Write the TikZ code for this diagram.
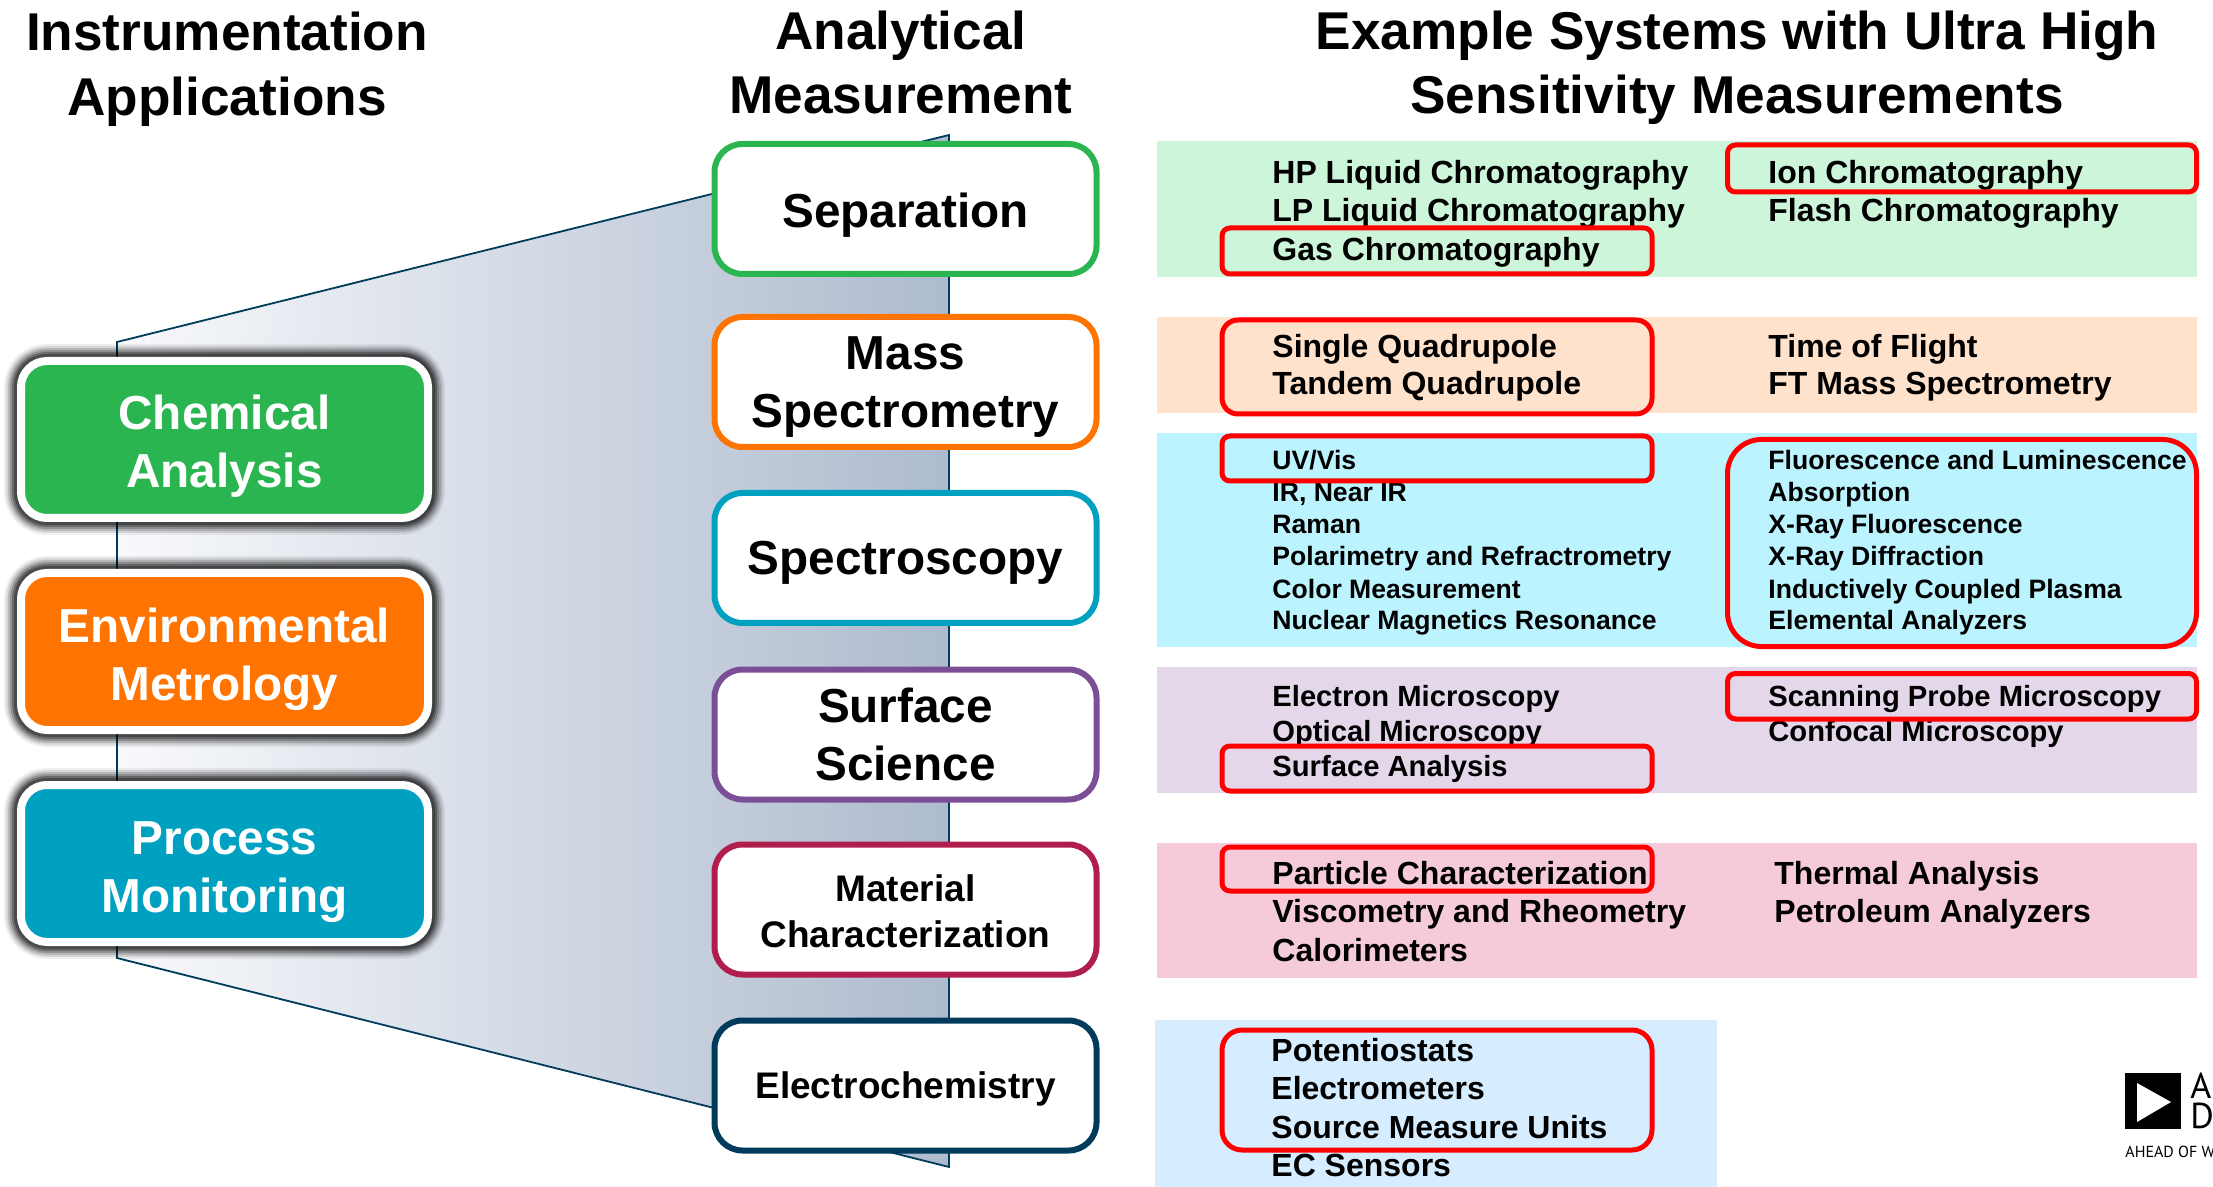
\documentclass[tikz,border=0pt]{standalone}
\usepackage{fontspec}
\setmainfont{Liberation Sans}
\newfontfamily\logofont{PT Sans}
\usetikzlibrary{calc}
\definecolor{cGreen}{HTML}{2BB550}
\definecolor{cOrange}{HTML}{FF7300}
\definecolor{cTeal}{HTML}{00A0C0}
\definecolor{cPurple}{HTML}{7B4F96}
\definecolor{cCrimson}{HTML}{B01E4E}
\definecolor{cNavy}{HTML}{003B5C}
\definecolor{pGreen}{HTML}{CCF5DA}
\definecolor{pPeach}{HTML}{FFE2CC}
\definecolor{pCyan}{HTML}{BBF4FF}
\definecolor{pLilac}{HTML}{E4D7EA}
\definecolor{pPink}{HTML}{F5CADA}
\definecolor{pBlue}{HTML}{D5EDFF}
\definecolor{fLeft}{HTML}{F8F9FB}
\definecolor{fRight}{HTML}{AEBBCE}
\newcommand{\nd}[2][0pt]{\raisebox{-#1}[\height][0pt]{#2}}
\tikzset{
  x=0.5pt,y=-0.5pt,
  title/.style={font=\bfseries\fontsize{26.6}{32}\selectfont,align=center,anchor=base},
  leftbox/.style={draw=white,line width=4pt,fill=#1,rounded corners=13pt,minimum width=203.5pt,minimum height=78.5pt,inner sep=0pt,
    text=white,align=center,font=\bfseries\fontsize{23.85}{29}\selectfont,
    preaction={draw=black,opacity=.06,line width=17pt},
    preaction={draw=black,opacity=.10,line width=15pt},
    preaction={draw=black,opacity=.15,line width=13pt},
    preaction={draw=black,opacity=.2,line width=11pt},
    preaction={draw=black,opacity=.28,line width=9pt},
    preaction={draw=black,opacity=.3,line width=7pt}},
  midbox/.style={draw=#1,line width=3pt,fill=white,rounded corners=14pt,minimum width=191pt,minimum height=65pt,inner sep=0pt,
    align=center,font=\bfseries\fontsize{23.85}{29}\selectfont},
  midsmall/.style={font=\bfseries\fontsize{18.5}{23}\selectfont},
  panel/.style={fill=#1,draw=none},
  item/.style={anchor=base west,inner sep=0pt,font=\bfseries\fontsize{16}{19}\selectfont},
  itemspec/.style={anchor=base west,inner sep=0pt,font=\bfseries\fontsize{13.3}{16}\selectfont},
  itemsurf/.style={anchor=base west,inner sep=0pt,font=\bfseries\fontsize{14.6}{17}\selectfont},
  redbox/.style={draw=red,line width=2.5pt,rounded corners=#1},
  redbox/.default=4pt,
  logotext/.style={anchor=base west,inner sep=0pt,font=\logofont\fontsize{#1}{20}\selectfont},
}
\begin{document}
\begin{tikzpicture}
\useasboundingbox (0,0) rectangle (2213,1187);
% funnel
\path[draw=cNavy,line width=0.9pt,left color=fLeft,right color=fRight]
  (117,342) -- (949,135) -- (949,1167) -- (117,958) -- cycle;
% titles
\node[title] (t1) at (227,51) {Instrumentation};
\node[title] (t1b) at (227,116) {Applications};
\node[title] (t2) at (901,50) {Analytical};
\node[title] (t2b) at (901,114) {Measurement};
\node[title] (t3) at (1737,50) {Example Systems with Ultra High};
\node[title] (t3b) at (1737,114) {Sensitivity Measurements};
% left boxes
\node[leftbox=cGreen] (chem) at (224.5,439.5) {\nd[.7pt]{Chemical}\\\nd[.7pt]{Analysis}};
\node[leftbox=cOrange] (env) at (224.5,651.5) {\nd[1.5pt]{Environmental}\\\nd[1.5pt]{Metrology}};
\node[leftbox=cTeal] (proc) at (224.5,863.5) {\nd[1.75pt]{Process}\\\nd[1.75pt]{Monitoring}};
% middle boxes
\node[midbox=cGreen] (sep) at (905.5,209) {\nd[.5pt]{Separation}};
\node[midbox=cOrange] (mass) at (905.5,382) {Mass\\\nd{Spectrometry}};
\node[midbox=cTeal] (spec) at (905.5,558) {\nd{Spectroscopy}};
\node[midbox=cPurple] (surf) at (905.5,734.5) {Surface\\\nd{Science}};
\node[midbox=cCrimson,midsmall] (mat) at (905.5,909.5) {\nd[.7pt]{Material}\\\nd[.7pt]{Characterization}};
\node[midbox=cNavy,midsmall] (elec) at (905.5,1085.5) {\nd{Electrochemistry}};
% panels
\fill[panel=pGreen] (1157,141) rectangle (2197,277);
\fill[panel=pPeach] (1157,317) rectangle (2197,413.5);
\fill[panel=pCyan] (1157,433) rectangle (2197,646.5);
\fill[panel=pLilac] (1157,667) rectangle (2197,793);
\fill[panel=pPink] (1157,843) rectangle (2197,978);
\fill[panel=pBlue] (1155,1020) rectangle (1716.5,1187);
% items
\node[item] (a1) at (1272,183.5) {HP Liquid Chromatography};
\node[item] (a2) at (1272,221.5) {LP Liquid Chromatography};
\node[item] (a3) at (1272,261) {Gas Chromatography};
\node[item] (a4) at (1768,183.5) {Ion Chromatography};
\node[item] (a5) at (1768,221.5) {Flash Chromatography};
\node[item] (b1) at (1272,358) {Single Quadrupole};
\node[item] (b2) at (1272,395) {Tandem Quadrupole};
\node[item] (b3) at (1768,358) {Time of Flight};
\node[item] (b4) at (1768,395) {FT Mass Spectrometry};
\node[itemspec] (c1) at (1272,470) {UV/Vis};
\node[itemspec] (c2) at (1272,502) {IR, Near IR};
\node[itemspec] (c3) at (1272,534) {Raman};
\node[itemspec] (c4) at (1272,566) {Polarimetry and Refractrometry};
\node[itemspec] (c5) at (1272,598) {Color Measurement};
\node[itemspec] (c6) at (1272,630) {Nuclear Magnetics Resonance};
\node[itemspec] (c7) at (1768,470) {Fluorescence and Luminescence};
\node[itemspec] (c8) at (1768,502) {Absorption};
\node[itemspec] (c9) at (1768,534) {X-Ray Fluorescence};
\node[itemspec] (c10) at (1768,566) {X-Ray Diffraction};
\node[itemspec] (c11) at (1768,598) {Inductively Coupled Plasma};
\node[itemspec] (c12) at (1768,630) {Elemental Analyzers};
\node[itemsurf] (d1) at (1272,706) {Electron Microscopy};
\node[itemsurf] (d2) at (1272,741) {Optical Microscopy};
\node[itemsurf] (d3) at (1272,776) {Surface Analysis};
\node[itemsurf] (d4) at (1768,706) {Scanning Probe Microscopy};
\node[itemsurf] (d5) at (1768,741) {Confocal Microscopy};
\node[item] (e1) at (1272,884) {Particle Characterization};
\node[item] (e2) at (1272,922) {Viscometry and Rheometry};
\node[item] (e3) at (1272,961) {Calorimeters};
\node[item] (e4) at (1774,884) {Thermal Analysis};
\node[item] (e5) at (1774,922) {Petroleum Analyzers};
\node[item] (f1) at (1271,1061) {Potentiostats};
\node[item] (f2) at (1271,1099) {Electrometers};
\node[item] (f3) at (1271,1138) {Source Measure Units};
\node[item] (f4) at (1271,1176) {EC Sensors};
% red highlight boxes
\draw[redbox] (1727.5,145) rectangle (2196.5,192);
\draw[redbox] (1222,228) rectangle (1652,274);
\draw[redbox=8pt] (1222,320) rectangle (1652,414);
\draw[redbox] (1222,436) rectangle (1652,481);
\draw[redbox=17pt] (1727.5,439.5) rectangle (2196.5,646.5);
\draw[redbox] (1727.5,673.5) rectangle (2196.5,719);
\draw[redbox] (1222,746) rectangle (1652,791);
\draw[redbox] (1222,847) rectangle (1652,891);
\draw[redbox=10pt] (1222,1030) rectangle (1652,1150);
% logo
\fill[black] (2125,1073) rectangle (2181,1129);
\fill[white] (2137,1083) -- (2137,1122) -- (2171,1102) -- cycle;
\begin{scope}
\clip (2100,1060) rectangle (2213,1187);
\node[logotext=18] (lg1) at (2190,1098) {A};
\node[logotext=18] (lg2) at (2190,1128) {D};
\node[logotext=8] (lg3) at (2125,1157) {AHEAD OF W};
\end{scope}
\end{tikzpicture}
\end{document}
